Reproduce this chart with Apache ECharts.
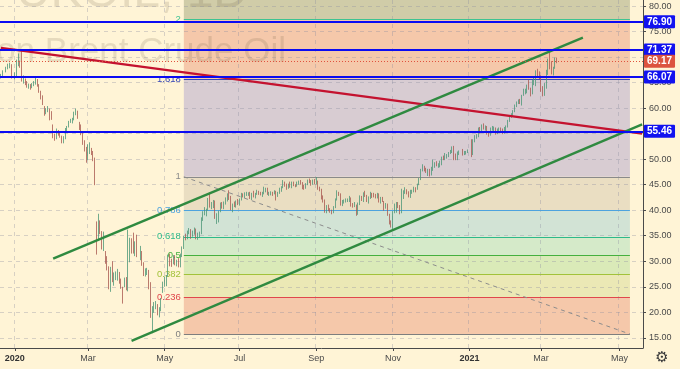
<!DOCTYPE html>
<html><head><meta charset="utf-8">
<script src="https://cdn.jsdelivr.net/npm/echarts@6/dist/echarts.min.js"></script>
<style>html,body{margin:0;padding:0;background:#FFF4D6}#c{width:680px;height:369px}</style>
</head><body><div id="c"></div>
<script>
// ---------- data ----------
const firstDate = '2019-12-23';
const barCount = 369;
const xTickDates = ['2020-01-02','2020-03-02','2020-05-01','2020-07-01','2020-09-01','2020-11-02','2021-01-01','2021-03-01','2021-05-03'];
const xTickLabels = ['2020','Mar','May','Jul','Sep','Nov','2021','Mar','May'];
const yTickValues = [15,20,25,30,35,40,45,50,55,60,65,70,75,80];
// [open, close, low, high], one row per weekday from 2019-12-23
const candles = [
[66.1,66.4,65.8,66.7],[66.4,67.2,66.3,67.4],null,[67.2,67.9,67.0,68.1],[67.9,68.2,67.6,68.7],
[68.2,68.4,67.8,68.9],[68.4,66.0,65.8,68.6],null,[66.1,66.3,65.6,67.0],[66.3,68.6,66.2,69.5],
[68.7,68.9,68.2,70.7],[68.9,68.3,67.9,69.3],[68.3,65.4,65.2,71.4],[65.4,65.4,64.8,66.4],[65.4,65.0,64.5,65.8],
[65.0,64.2,64.0,65.3],[64.2,64.5,63.8,64.8],[64.5,64.0,63.6,64.7],[64.0,64.6,63.9,64.9],[64.6,64.9,64.3,65.3],
[64.9,65.2,64.6,65.9],[65.2,64.6,64.2,65.7],[64.6,63.2,63.0,64.7],[63.2,62.0,61.7,63.4],[62.0,60.7,60.6,62.5],
[60.2,59.3,58.5,60.4],[59.3,59.5,58.8,60.0],[59.5,59.8,59.2,60.4],[59.8,58.3,57.6,59.9],[58.3,58.2,57.7,59.4],
[56.6,54.5,54.1,56.8],[54.5,54.0,53.6,55.0],[54.0,55.3,53.9,56.0],[55.3,55.0,54.6,55.7],[55.0,54.5,54.2,55.3],
[54.4,53.3,53.1,54.6],[53.3,54.0,53.1,54.5],[54.0,55.8,53.9,56.1],[55.8,56.3,55.3,56.5],[56.3,57.3,56.2,57.5],
[57.3,57.7,57.1,57.9],[57.7,57.8,57.0,58.1],[57.8,59.1,57.6,59.3],[59.1,59.3,58.6,59.9],[59.3,58.5,57.9,59.5],
[57.0,56.3,55.7,57.3],[56.3,55.0,54.7,56.8],[55.0,53.4,52.8,55.2],[53.4,52.2,51.5,53.7],[52.2,50.5,49.3,52.4],
[50.5,51.9,49.8,52.9],[51.9,51.9,51.0,53.3],[51.9,51.1,50.8,52.2],[51.1,50.0,49.6,51.6],[50.0,45.3,44.9,50.3],
[36.0,34.4,31.3,37.8],[34.4,37.2,34.0,39.3],[37.2,35.8,35.3,38.0],[35.8,33.2,32.3,35.9],[33.2,33.9,32.0,35.8],
[31.7,30.1,29.5,32.0],[30.1,28.7,28.2,31.0],[28.7,24.9,24.5,29.0],[24.9,28.5,24.0,28.9],[28.5,27.0,25.9,30.0],
[26.5,27.0,25.2,27.8],[27.0,27.2,26.3,28.0],[27.2,27.4,26.2,28.5],[27.4,26.3,25.6,27.9],[26.3,24.9,24.6,26.6],
[24.9,22.8,21.7,25.0],[25.2,26.4,24.9,26.8],[26.4,24.7,24.3,26.9],[24.7,29.9,24.1,36.2],[30.5,34.1,29.8,34.6],
[34.0,33.0,31.5,34.5],[33.0,31.9,31.5,35.6],[31.9,32.8,31.0,33.9],[32.8,31.5,30.8,35.2],null,
[31.5,31.7,30.2,33.0],[31.7,29.6,29.1,32.0],[29.6,27.7,27.1,29.8],[27.7,27.8,27.0,28.6],[27.8,28.1,27.3,28.7],
[28.1,25.6,24.5,28.3],[25.6,19.3,18.9,25.9],[19.3,20.4,15.9,21.2],[20.4,21.3,19.9,22.0],[21.3,21.4,20.6,22.2],
[21.4,20.0,19.4,21.6],[20.0,20.5,19.0,21.0],[20.5,22.5,20.2,22.8],[24.5,25.3,23.8,26.0],[25.3,26.4,25.0,27.0],
[26.4,27.2,25.1,27.3],[27.2,31.0,27.0,31.3],[31.0,29.7,29.0,31.5],[29.7,29.5,28.9,30.5],[29.5,31.0,29.4,31.2],
[31.0,29.6,29.2,31.2],[29.6,30.0,29.0,30.3],[30.0,29.2,28.8,30.6],[29.2,31.1,28.8,31.5],[31.1,32.5,30.8,32.9],
[32.5,34.8,32.4,35.0],[34.8,34.7,34.1,35.4],[34.7,35.8,34.3,36.0],[35.8,36.1,35.3,36.5],[36.1,35.1,34.4,36.3],
[35.1,35.5,34.8,36.0],[35.5,36.2,35.2,36.6],[36.2,34.7,34.3,36.4],[34.7,35.3,34.2,35.6],[35.3,35.3,34.6,35.8],
[35.5,38.3,35.3,38.6],[38.3,39.6,37.9,39.8],[39.6,39.8,39.0,40.6],[39.8,40.0,38.8,40.3],[40.0,42.3,39.9,42.4],
[42.3,40.8,40.5,43.4],[40.8,41.2,40.2,41.6],[41.2,41.7,40.4,42.0],[41.7,38.6,38.3,41.9],[38.6,38.7,37.3,39.4],
[38.7,39.7,37.6,39.9],[39.7,41.0,39.6,41.5],[41.0,40.7,40.3,41.6],[40.7,41.5,40.2,41.7],[41.5,42.2,41.1,42.5],
[42.2,43.1,41.7,43.3],[43.1,42.6,42.0,43.9],[42.6,40.3,40.0,42.8],[40.3,41.1,39.6,41.3],[41.1,41.0,40.6,41.7],
[41.0,41.7,40.5,41.9],[41.7,41.2,41.0,42.2],[41.2,42.0,40.9,42.3],[42.0,43.1,41.9,43.4],[43.1,42.8,42.5,43.3],
[42.8,43.1,42.4,43.5],[43.1,43.1,42.8,43.6],[43.1,43.3,42.8,43.5],[43.3,42.4,42.2,43.6],[42.4,43.2,42.0,43.4],
[43.2,42.7,42.5,43.8],[42.7,43.3,42.3,43.4],[43.3,43.8,43.0,44.0],[43.8,43.4,43.0,43.8],[43.4,43.1,42.9,43.6],
[43.1,43.3,42.6,43.6],[43.3,44.3,43.1,44.6],[44.3,44.3,43.5,44.4],[44.3,43.3,43.0,44.4],[43.3,43.3,42.8,43.6],
[43.3,43.4,42.9,43.7],[43.4,43.2,42.8,43.6],[43.2,43.8,43.1,43.9],[43.8,42.9,41.9,43.8],[42.9,43.3,42.6,43.6],
[43.3,44.2,43.2,44.4],[44.2,44.4,43.6,44.7],[44.4,45.2,44.3,45.9],[45.2,45.1,44.6,45.6],[45.1,44.4,44.0,45.2],
[44.4,45.0,44.2,45.2],[45.0,44.5,44.4,45.6],[44.5,45.4,44.3,45.6],[45.4,45.0,44.7,45.6],[45.0,44.8,44.5,45.1],
[44.8,45.4,44.6,45.6],[45.4,45.5,45.0,45.8],[45.5,45.4,45.0,45.9],[45.4,44.9,44.1,45.5],[44.9,44.4,44.0,45.0],
[44.4,45.1,44.2,45.3],[45.1,45.9,44.9,46.0],[45.9,45.6,45.3,46.2],[45.6,45.1,44.8,45.9],[45.1,45.8,45.0,46.0],
[45.8,45.3,45.1,46.1],[45.3,45.6,45.0,46.5],[45.6,44.4,44.0,45.8],[44.4,44.1,43.7,44.6],[44.1,42.7,42.1,44.2],
[42.7,42.0,41.5,42.9],[42.0,39.8,39.5,42.1],[39.8,40.8,39.4,41.0],[40.8,40.1,39.8,41.1],[40.1,39.8,39.5,40.4],
[39.8,39.6,39.2,40.1],[39.6,40.5,39.4,40.8],[40.5,42.2,40.4,42.3],[42.2,43.3,41.9,43.9],[43.3,43.2,42.8,43.6],
[43.2,41.4,40.9,43.3],[41.4,41.7,40.8,42.0],[41.7,41.8,41.3,42.1],[41.8,41.9,41.5,42.3],[41.9,41.9,41.6,42.3],
[41.9,42.4,41.6,42.8],[42.4,41.0,40.7,42.5],[41.0,40.9,40.5,41.4],[40.9,40.9,40.6,41.6],[40.9,39.3,38.9,41.1],
[39.3,41.3,39.1,41.5],[41.3,42.7,41.0,42.9],[42.7,42.0,41.8,42.8],[42.0,43.3,41.6,43.5],[43.3,42.9,42.6,43.8],
[42.9,41.7,41.6,43.0],[41.7,42.5,41.3,42.7],[42.5,43.3,42.2,43.6],[43.3,43.2,42.4,43.4],[43.2,42.9,42.5,43.4],
[42.9,42.6,42.3,43.2],[42.6,43.2,42.3,43.4],[43.2,41.7,41.5,43.3],[41.7,42.5,41.3,42.6],[42.5,41.8,41.6,42.6],
[41.8,40.5,39.9,41.8],[40.5,41.2,40.3,41.4],[41.2,39.1,38.9,41.3],[39.1,37.7,37.2,39.3],[37.7,37.5,36.6,38.0],
[37.5,39.7,36.3,39.8],[39.7,40.7,39.4,41.3],[40.7,41.2,39.5,41.6],[41.2,40.9,40.4,41.6],[40.9,39.5,39.2,41.0],
[39.5,42.4,39.4,44.2],[42.4,43.6,42.2,43.9],[43.6,43.8,43.2,44.5],[43.8,43.5,43.1,44.1],[43.5,42.8,42.5,43.7],
[42.8,43.8,42.4,44.0],[43.8,43.8,43.2,44.0],[43.8,44.3,43.5,44.6],[44.3,44.2,43.5,44.5],[44.2,45.0,44.0,45.2],
[45.0,46.1,44.9,46.3],[46.1,47.9,45.9,48.1],[47.9,48.6,47.6,49.0],[48.6,47.8,47.6,48.7],[47.8,47.6,47.3,48.3],
[47.6,47.6,46.7,48.1],[47.6,47.4,46.6,48.1],[47.4,48.3,46.8,48.5],[48.3,48.7,47.7,49.9],[48.7,49.3,48.3,49.4],
[49.3,48.8,48.6,49.6],[48.8,48.8,48.3,49.2],[48.8,48.9,48.4,49.7],[48.9,50.3,48.8,50.5],[50.3,50.0,49.8,50.7],
[50.0,50.3,49.8,51.2],[50.3,50.8,50.1,51.0],[50.8,51.1,50.4,51.4],[51.1,51.5,51.0,51.8],[51.5,52.3,51.2,52.5],
[52.3,50.9,49.8,52.6],[50.9,50.1,49.8,51.1],[50.1,51.2,49.8,51.5],[51.2,51.3,50.8,51.7],null,
[51.3,50.9,50.7,52.0],[50.9,51.1,50.8,51.6],[51.1,51.3,50.9,51.6],[51.3,51.8,51.2,51.9],null,
[51.8,51.1,50.4,53.9],[51.1,53.6,50.8,53.9],[53.6,54.3,53.3,54.7],[54.3,54.4,54.0,54.9],[54.4,56.0,54.3,56.2],
[56.0,55.7,55.0,56.3],[55.7,56.6,55.3,56.8],[56.6,56.1,55.8,57.0],[56.1,56.4,55.6,56.6],[56.4,55.1,54.8,56.5],
[55.1,54.8,54.4,55.2],[54.8,55.9,54.6,56.2],[55.9,56.1,55.6,56.5],[56.1,56.1,55.5,56.4],[56.1,55.4,54.8,56.2],
[55.4,55.9,54.9,56.0],[55.9,55.9,55.4,56.2],[55.9,55.8,55.4,56.2],[55.8,55.5,54.9,56.0],[55.5,55.9,55.0,56.3],
[55.9,56.4,55.2,56.6],[56.4,57.5,56.2,57.7],[57.5,58.5,57.3,58.6],[58.5,58.8,58.1,59.0],[58.8,59.3,58.5,59.6],
[59.3,60.6,59.2,60.7],[60.6,61.1,60.2,61.3],[61.1,61.5,60.8,61.7],[61.5,61.1,60.8,61.8],[61.1,62.4,60.5,62.6],
[62.4,63.3,62.4,63.8],[63.3,63.4,62.7,63.8],[63.4,64.3,62.9,64.6],[64.3,63.9,63.6,65.5],[63.9,62.9,62.3,64.0],
[62.9,65.2,62.7,65.5],[65.2,65.4,64.5,66.1],[65.4,67.0,64.3,67.4],[67.0,66.9,66.2,67.7],[66.9,66.1,65.7,67.2],
[66.1,63.7,63.2,66.4],[63.7,62.7,62.3,64.3],[62.7,64.1,62.4,64.9],[64.1,66.7,63.8,67.5],[66.7,69.4,66.5,69.7],
[69.4,68.2,67.6,71.4],[68.2,67.5,66.6,69.2],[67.5,67.9,66.4,68.1],[67.9,69.6,67.7,69.9],[69.6,69.2,68.8,69.9]
];
const hLevels = [76.90, 71.37, 66.07, 55.46];
const lastPrice = 69.17;
const fibRatios = [0, 0.236, 0.382, 0.5, 0.618, 0.786, 1, 1.618, 2, 2.618];
const fibLabels = ['0', '0.236', '0.382', '0.5', '0.618', '0.786', '1', '1.618', '2'];
const fibPrice0 = 15.73, fibPrice1 = 46.55;
const fibFrom = '2020-05-18', fibTo = '2021-05-11';
const redLine = [['2019-12-23', 71.8], ['2021-05-20', 55.0]];
const greenUpper = [['2020-02-03', 30.5], ['2021-04-02', 73.8]];
const greenLower = [['2020-04-06', 14.4], ['2021-05-20', 56.8]];

// ---------- styles ----------
const Y_MIN = 13.0, Y_MAX = 81.18;
const fibLineColors = ['#7E7E7E','#E0474C','#A2C23A','#45B03E','#2DB98A','#4DA3DE','#8A8A8A','#3848B8','#3FC392'];
const fibZoneColors = ['#F5C8AA','#EBE8B5','#DAEAB8','#D5EAC9','#D2E3D5','#EADEC2','#D8CCD2','#F5C8AA','#D0CCA8'];
const FONT = '"Liberation Sans", Arial, sans-serif';
const WM = 'rgba(90,75,50,0.15)';

function buildDates(first, n) {
  const out = []; const d = new Date(first + 'T00:00:00Z');
  while (out.length < n) {
    const w = d.getUTCDay();
    if (w !== 0 && w !== 6) out.push(d.toISOString().slice(0, 10));
    d.setUTCDate(d.getUTCDate() + 1);
  }
  return out;
}
const dates = buildDates(firstDate, barCount);
const tickMap = {}; xTickDates.forEach((d, i) => tickMap[d] = xTickLabels[i]);
const isTick = (i, v) => tickMap[v] !== undefined;
const fibPrice = r => fibPrice0 + r * (fibPrice1 - fibPrice0);

const zoneData = [];
for (let i = 0; i < fibRatios.length - 1; i++) {
  zoneData.push([
    { xAxis: fibFrom, yAxis: fibPrice(fibRatios[i]), itemStyle: { color: fibZoneColors[i] } },
    { xAxis: fibTo, yAxis: Math.min(fibPrice(fibRatios[i + 1]), Y_MAX) }
  ]);
}
const fibLineData = fibLabels.map((lab, i) => [
  { coord: [fibFrom, fibPrice(fibRatios[i])],
    lineStyle: { color: fibLineColors[i], width: 1, type: 'solid' },
    label: { show: true, position: 'start', formatter: lab, color: fibLineColors[i], fontSize: 9.5, fontFamily: FONT, distance: 3 } },
  { coord: [fibTo, fibPrice(fibRatios[i])] }
]);
fibLineData.push([
  { coord: [fibFrom, fibPrice1], lineStyle: { color: '#8C8C8C', width: 1, type: [4, 4] }, label: { show: false } },
  { coord: [fibTo, fibPrice0] }
]);

const chart = echarts.init(document.getElementById('c'), null, { renderer: 'canvas' });
chart.setOption({
  animation: false,
  backgroundColor: '#FFF4D6',
  grid: { left: 0, right: 37, top: 0, bottom: 21, containLabel: false },
  xAxis: {
    type: 'category', data: dates, boundaryGap: true,
    axisLine: { show: true, lineStyle: { color: '#4a4a4a', width: 1 } },
    axisTick: { show: true, interval: isTick, alignWithLabel: true, length: 3, lineStyle: { color: '#4a4a4a' } },
    axisLabel: {
      interval: isTick, margin: 6, fontSize: 9, fontFamily: FONT, color: '#4A4A4A',
      formatter: v => { const l = tickMap[v]; return /^\d+$/.test(l) ? '{b|' + l + '}' : l; },
      rich: { b: { fontWeight: 'bold', fontSize: 9, fontFamily: FONT, color: '#333' } }
    },
    splitLine: { show: true, interval: isTick, lineStyle: { color: 'rgba(140,140,160,0.35)', type: [4, 4], width: 1 } }
  },
  yAxis: {
    type: 'value', position: 'right', min: Y_MIN, max: Y_MAX,
    axisLine: { show: true, lineStyle: { color: '#4a4a4a', width: 1 } },
    axisTick: { show: true, customValues: yTickValues, length: 3, lineStyle: { color: '#4a4a4a' } },
    axisLabel: { customValues: yTickValues, margin: 6, fontSize: 9, fontFamily: FONT, color: '#4A4A4A', formatter: v => v.toFixed(2) },
    splitLine: { show: true, lineStyle: { color: 'rgba(140,140,160,0.35)', type: [4, 4], width: 1 } }
  },
  graphic: [
    { type: 'text', z: -1, x: 248, y: -6, style: { text: 'UKOIL, 1D', font: '48px ' + FONT, fill: WM, textAlign: 'right', textVerticalAlign: 'middle' } },
    { type: 'text', z: -1, x: 286, y: 52, style: { text: 'CFDs on Brent Crude Oil', font: '35px ' + FONT, fill: WM, textAlign: 'right', textVerticalAlign: 'middle' } },
    { type: 'text', x: 662, y: 358, style: { text: '\u2699', font: '15px "DejaVu Sans"', fill: '#3a3a3a', textAlign: 'center', textVerticalAlign: 'middle' } }
  ],
  series: [
    { type: 'line', data: [], silent: true,
      markArea: { silent: true, z: -2, data: zoneData } },
    { type: 'line', data: [], silent: true,
      markLine: { silent: true, z: 1, symbol: ['none', 'none'], data: fibLineData } },
    { type: 'candlestick', data: candles.map(c => c ? c : '-'), barWidth: 1, z: 2, silent: true,
      itemStyle: { color: '#4E9878', color0: '#A95A52', borderColor: '#4E9878', borderColor0: '#A95A52', borderWidth: 0.8 } },
    { type: 'line', data: redLine, symbol: 'none', z: 3, silent: true, lineStyle: { color: '#C4122F', width: 2.4 } },
    { type: 'line', data: greenUpper, symbol: 'none', z: 3, silent: true, lineStyle: { color: '#2F8A40', width: 2.4 } },
    { type: 'line', data: greenLower, symbol: 'none', z: 3, silent: true, lineStyle: { color: '#2F8A40', width: 2.4 } },
    { type: 'line', data: [], silent: true,
      markLine: { silent: true, z: 6, symbol: ['none', 'none'],
        data: hLevels.map(v => ({ yAxis: v,
          lineStyle: { color: '#0B0BF2', width: 1.8, type: 'solid' },
          label: { show: true, position: 'end', distance: 1, formatter: p => p.value.toFixed(2),
            backgroundColor: '#1212F0', color: '#fff', fontWeight: 'bold', fontSize: 10, fontFamily: FONT,
            padding: [2, 3, 1, 3], borderRadius: 1 } })).concat([{ yAxis: lastPrice,
          lineStyle: { color: '#E0523E', width: 1, type: [1, 2] },
          label: { show: true, position: 'end', distance: 1, formatter: p => p.value.toFixed(2),
            backgroundColor: '#DC533F', color: '#fff', fontWeight: 'bold', fontSize: 10, fontFamily: FONT,
            padding: [2, 3, 1, 3], borderRadius: 1 } }])
      } }
  ]
});
</script>
</body></html>
